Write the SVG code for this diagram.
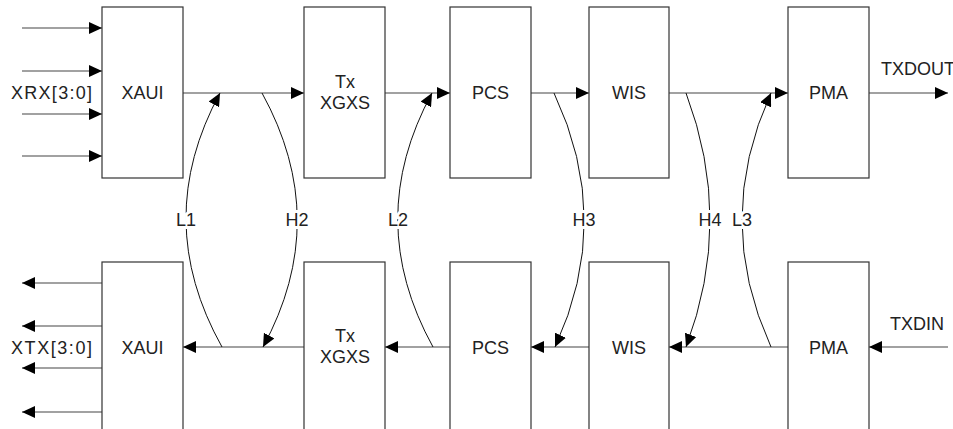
<svg xmlns="http://www.w3.org/2000/svg" width="953" height="429" viewBox="0 0 953 429">
<defs>
<marker id="ah" markerUnits="userSpaceOnUse" markerWidth="14" markerHeight="12" refX="13" refY="6" orient="auto">
<path d="M0,0 L13,6 L0,12 Z" fill="#000"/>
</marker>
<style>
.box{fill:#fff;stroke:#333;stroke-width:1.2}
.ln{fill:none;stroke:#444;stroke-width:1.2}
.cv{fill:none;stroke:#111;stroke-width:1}
text{font-family:"Liberation Sans",Arial,sans-serif;font-size:18px;fill:#222}
.c{text-anchor:middle}
.lbl{text-anchor:middle;stroke:#fff;stroke-width:6;paint-order:stroke}
</style>
</defs>
<rect width="953" height="429" fill="#fff"/>
<g id="connectors">
<!-- inputs -->
<line class="ln" x1="22" y1="28" x2="102" y2="28" marker-end="url(#ah)"/>
<line class="ln" x1="22" y1="71" x2="102" y2="71" marker-end="url(#ah)"/>
<line class="ln" x1="22" y1="114" x2="102" y2="114" marker-end="url(#ah)"/>
<line class="ln" x1="22" y1="156" x2="102" y2="156" marker-end="url(#ah)"/>
<!-- outputs -->
<line class="ln" x1="102" y1="283" x2="22" y2="283" marker-end="url(#ah)"/>
<line class="ln" x1="102" y1="326" x2="22" y2="326" marker-end="url(#ah)"/>
<line class="ln" x1="102" y1="368" x2="22" y2="368" marker-end="url(#ah)"/>
<line class="ln" x1="102" y1="412" x2="22" y2="412" marker-end="url(#ah)"/>
<!-- top chain -->
<line class="ln" x1="183" y1="93" x2="304" y2="93" marker-end="url(#ah)"/>
<line class="ln" x1="385" y1="93" x2="450" y2="93" marker-end="url(#ah)"/>
<line class="ln" x1="531" y1="93" x2="589" y2="93" marker-end="url(#ah)"/>
<line class="ln" x1="669" y1="93" x2="788" y2="93" marker-end="url(#ah)"/>
<line class="ln" x1="869" y1="93" x2="948" y2="93" marker-end="url(#ah)"/>
<!-- bottom chain -->
<line class="ln" x1="948" y1="347" x2="869" y2="347" marker-end="url(#ah)"/>
<line class="ln" x1="788" y1="347" x2="669" y2="347" marker-end="url(#ah)"/>
<line class="ln" x1="589" y1="347" x2="531" y2="347" marker-end="url(#ah)"/>
<line class="ln" x1="450" y1="347" x2="385" y2="347" marker-end="url(#ah)"/>
<line class="ln" x1="304" y1="347" x2="183" y2="347" marker-end="url(#ah)"/>
<!-- loopback curves -->
<path class="cv" d="M222,347 Q151,220 220,93" marker-end="url(#ah)"/>
<path class="cv" d="M262,93 Q332,220 263,347" marker-end="url(#ah)"/>
<path class="cv" d="M433,347 Q363,220 432,93" marker-end="url(#ah)"/>
<path class="cv" d="M554,93 Q614,220 555,347" marker-end="url(#ah)"/>
<path class="cv" d="M686,93 Q734,220 686,347" marker-end="url(#ah)"/>
<path class="cv" d="M771,347 Q713,220 771,93" marker-end="url(#ah)"/>
</g>
<g id="xaui-rx"><rect class="box" x="102" y="7" width="81" height="171"/><text class="c" x="142.5" y="99">XAUI</text></g>
<g id="txxgxs-top"><rect class="box" x="304" y="7" width="81" height="171"/><text class="c" x="345" y="88">Tx</text><text class="c" x="345" y="109">XGXS</text></g>
<g id="pcs-top"><rect class="box" x="450" y="7" width="81" height="171"/><text class="c" x="490.5" y="99">PCS</text></g>
<g id="wis-top"><rect class="box" x="589" y="7" width="80" height="171"/><text class="c" x="629" y="99">WIS</text></g>
<g id="pma-top"><rect class="box" x="788" y="7" width="81" height="171"/><text class="c" x="828.5" y="99">PMA</text></g>
<g id="xaui-tx"><rect class="box" x="102" y="262" width="81" height="180"/><text class="c" x="142.5" y="354">XAUI</text></g>
<g id="txxgxs-bot"><rect class="box" x="304" y="262" width="81" height="180"/><text class="c" x="345" y="342">Tx</text><text class="c" x="345" y="363">XGXS</text></g>
<g id="pcs-bot"><rect class="box" x="450" y="262" width="81" height="180"/><text class="c" x="490.5" y="354">PCS</text></g>
<g id="wis-bot"><rect class="box" x="589" y="262" width="80" height="180"/><text class="c" x="629" y="354">WIS</text></g>
<g id="pma-bot"><rect class="box" x="788" y="262" width="81" height="180"/><text class="c" x="828.5" y="354">PMA</text></g>
<g id="labels">
<text x="11" y="99" textLength="81">XRX[3:0]</text>
<text x="11" y="354" textLength="81">XTX[3:0]</text>
<text x="881" y="75">TXDOUT</text>
<text x="890" y="330">TXDIN</text>
<text class="lbl" x="186" y="226">L1</text>
<text class="lbl" x="297" y="226">H2</text>
<text class="lbl" x="398" y="226">L2</text>
<text class="lbl" x="584" y="226">H3</text>
<text class="lbl" x="710" y="226">H4</text>
<text class="lbl" x="742" y="226">L3</text>
</g>
</svg>
